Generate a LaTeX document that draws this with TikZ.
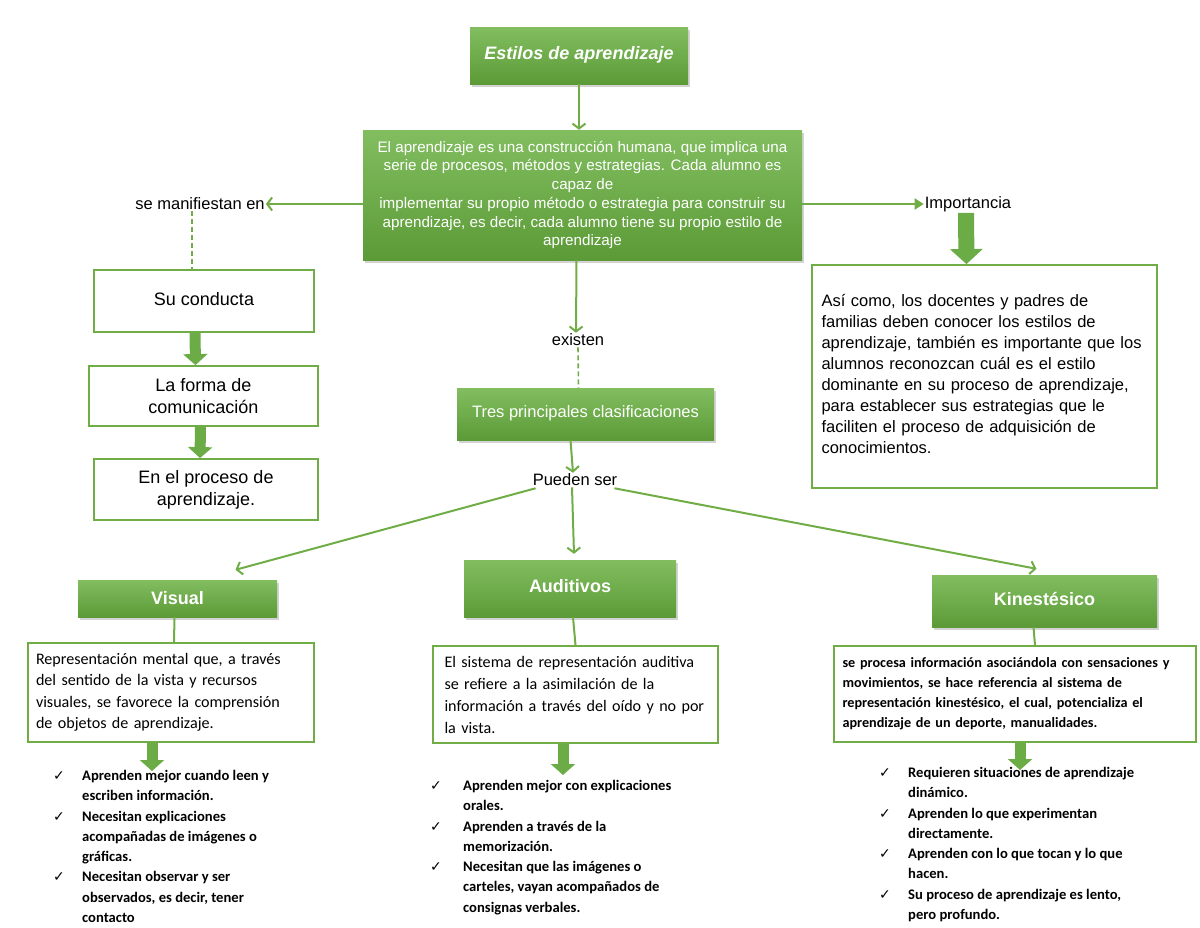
\documentclass[tikz,border=0pt]{standalone}
\usepackage{fontspec}
\setmainfont{Liberation Sans}
\newfontfamily\carl{Carlito}
\newfontfamily\dvs{DejaVu Sans}
\usetikzlibrary{arrows.meta,shadows,calc}
\definecolor{grn}{RGB}{112,173,71}
\definecolor{gtop}{RGB}{130,190,96}
\definecolor{gbot}{RGB}{92,154,55}
\definecolor{garrow}{RGB}{108,172,70}
\tikzset{
  gbox/.style={top color=gtop,bottom color=gbot,draw=none,
    drop shadow={opacity=0.35,shadow xshift=1.5pt,shadow yshift=-2.5pt},
    text=white,inner sep=0pt},
  wbox/.style={draw=grn,line width=1.8pt,fill=white,inner sep=0pt},
  conn/.style={draw=grn,line width=2pt,-{Straight Barb[length=5pt,width=13pt]}},
  tconn/.style={draw=grn,line width=2pt,-{Triangle[length=9pt,width=11pt]}},
  plain/.style={draw=grn,line width=2pt},
  dconn/.style={draw=grn,line width=1.6pt,dashed,dash pattern=on 5pt off 3pt},
  barrow/.style={draw=garrow,line width=11pt,-{Triangle[length=11pt,width=24pt]}},
  bigbarrow/.style={draw=garrow,line width=16pt,-{Triangle[length=15pt,width=32pt]}},
  lbl/.style={inner sep=1pt,font=\fontsize{16.5}{19}\selectfont},
  chk/.style={anchor=north west,inner sep=0pt,font=\carl\bfseries\fontsize{14.6}{20.3}\selectfont},
}
\newcommand{\ck}{{\dvs\mdseries\fontsize{14}{20}\selectfont ✓}}
\begin{document}
\begin{tikzpicture}[x=1pt,y=-1pt]
\useasboundingbox (0,0) rectangle (1200,927);

% top
\node[gbox,minimum width=218pt,minimum height=57pt,font=\bfseries\itshape\fontsize{18}{21}\selectfont] (title) at (579,55.5) {\raisebox{5pt}{Estilos de aprendizaje}};
\node[gbox,minimum width=439pt,minimum height=130pt,align=center,font=\fontsize{15.2}{18.7}\selectfont] (main) at (582.5,195) {El aprendizaje es una construcción humana, que implica una\\serie de procesos, métodos y estrategias. Cada alumno es\\capaz de\\implementar su propio método o estrategia para construir su\\aprendizaje, es decir, cada alumno tiene su propio estilo de\\aprendizaje};

\node[lbl] (manif) at (200,204) {se manifiestan en};
\node[lbl] (implbl) at (968,204) {Importancia};

% left column
\node[wbox,minimum width=220pt,minimum height=62pt,font=\fontsize{18}{21}\selectfont] (conducta) at (204,301) {\raisebox{5pt}{Su conducta}};
\node[wbox,minimum width=229pt,minimum height=60pt,align=center,font=\fontsize{18}{22}\selectfont] (forma) at (203.5,396) {La forma de\\comunicación};
\node[wbox,minimum width=224pt,minimum height=61pt,align=center,font=\fontsize{18}{22}\selectfont] (proceso) at (206,489.5) {En el proceso de\\aprendizaje.};

% right box
\node[wbox,minimum width=345pt,minimum height=223pt,text width=330pt,inner xsep=7.5pt,align=left,font=\fontsize{16.5}{21}\selectfont] (impbox) at (984.5,376.5) {\hspace*{2pt}\raisebox{5pt}{\parbox[b]{328pt}{Así como, los docentes y padres de\\familias deben conocer los estilos de\\aprendizaje, también es importante que los\\alumnos reconozcan cuál es el estilo\\dominante en su proceso de aprendizaje,\\para establecer sus estrategias que le\\faciliten el proceso de adquisición de\\conocimientos.}}};

% center
\node[lbl] (existen) at (578,340) {existen};
\node[gbox,minimum width=257pt,minimum height=52pt,font=\fontsize{16.5}{19}\selectfont] (tres) at (585.5,414) {\raisebox{5pt}{Tres principales clasificaciones}};
\node[lbl] (pueden) at (575,480) {Pueden ser};

% three styles
\node[gbox,minimum width=199pt,minimum height=37pt,font=\bfseries\fontsize{18}{21}\selectfont] (visual) at (177.5,598.5) {\raisebox{2pt}{Visual}};
\node[gbox,minimum width=212pt,minimum height=57pt,font=\bfseries\fontsize{18}{21}\selectfont] (aud) at (570,588.5) {\raisebox{6pt}{Auditivos}};
\node[gbox,minimum width=225pt,minimum height=52pt,font=\bfseries\fontsize{18}{21}\selectfont] (kin) at (1044.5,601) {\raisebox{4pt}{Kinestésico}};

\node[wbox,minimum width=286pt,minimum height=99pt,text width=270pt,inner xsep=8pt,align=left,font=\carl\fontsize{16.1}{21.5}\selectfont] (visdesc) at (171,692.5) {Representación mental que, a través\\del sentido de la vista y recursos\\visuales, se favorece la comprensión\\de objetos de aprendizaje.};
\node[wbox,minimum width=285pt,minimum height=97pt,text width=262pt,inner xsep=11.5pt,align=left,font=\carl\fontsize{16.1}{22}\selectfont] (auddesc) at (575.5,694.5) {El sistema de representación auditiva\\se refiere a la asimilación de la\\información a través del oído y no por\\la vista.};
\node[wbox,minimum width=362pt,minimum height=96pt,text width=345pt,inner xsep=8.5pt,align=left,font=\carl\bfseries\fontsize{14.2}{20}\selectfont] (kindesc) at (1015,694) {se procesa información asociándola con sensaciones y\\movimientos, se hace referencia al sistema de\\representación kinestésico, el cual, potencializa el\\aprendizaje de un deporte, manualidades.};

% lists
\node[chk] (vislist) at (53,766) {\begin{tabular}{@{}p{29pt}@{}l@{}}
\ck & Aprenden mejor cuando leen y\\
 & escriben información.\\
\ck & Necesitan explicaciones\\
 & acompañadas de imágenes o\\
 & gráficas.\\
\ck & Necesitan observar y ser\\
 & observados, es decir, tener\\
 & contacto
\end{tabular}};
\node[chk] (audlist) at (430,776) {\begin{tabular}{@{}p{33pt}@{}l@{}}
\ck & Aprenden mejor con explicaciones\\
 & orales.\\
\ck & Aprenden a través de la\\
 & memorización.\\
\ck & Necesitan que las imágenes o\\
 & carteles, vayan acompañados de\\
 & consignas verbales.
\end{tabular}};
\node[chk] (kinlist) at (879,763) {\begin{tabular}{@{}p{29pt}@{}l@{}}
\ck & Requieren situaciones de aprendizaje\\
 & dinámico.\\
\ck & Aprenden lo que experimentan\\
 & directamente.\\
\ck & Aprenden con lo que tocan y lo que\\
 & hacen.\\
\ck & Su proceso de aprendizaje es lento,\\
 & pero profundo.
\end{tabular}};

% connectors
\draw[conn] (title.south) -- (title.south |- main.north);
\draw[conn] ([yshift=-9pt]main.west) -- (manif.east);
\draw[tconn] ([yshift=-9pt]main.east) -- (implbl.west);
\draw[dconn] ([xshift=-8pt]manif.south) -- ([xshift=-12pt]conducta.north);
\draw[barrow] ([xshift=-9pt]conducta.south) -- ([xshift=-8pt]forma.north);
\draw[barrow] ([xshift=-3pt]forma.south) -- ([xshift=-6pt]proceso.north);
\draw[bigbarrow] ([xshift=-2pt]implbl.south) -- ([xshift=-18pt]impbox.north);
\draw[conn] ([xshift=-6pt]main.south) -- ([xshift=-2pt]existen.north);
\draw[dconn] (existen.south) -- ([xshift=-7pt]tres.north);
\draw[conn] ([xshift=-15pt]tres.south) -- ([xshift=-2pt]pueden.north);
\draw[conn] ([xshift=4pt,yshift=-1pt]pueden.south west) -- ([xshift=58pt,yshift=10pt]visual.north);
\draw[conn] ([xshift=-3pt]pueden.south) -- ([xshift=4pt,yshift=6pt]aud.north);
\draw[conn] ([xshift=-4pt,yshift=-1pt]pueden.south east) -- ([xshift=-8pt,yshift=6pt]kin.north);
\draw[plain] ([xshift=-3pt]visual.south) -- ([xshift=3pt]visdesc.north);
\draw[plain] ([xshift=3pt]aud.south) -- (auddesc.north);
\draw[plain] ([xshift=-11pt]kin.south) -- ([xshift=20pt]kindesc.north);
\coordinate (va) at (152,771);
\coordinate (aa) at (563,775);
\coordinate (ka) at (1020,770);
\draw[barrow] (visdesc.south -| va) -- (va);
\draw[barrow] (auddesc.south -| aa) -- (aa);
\draw[barrow] (kindesc.south -| ka) -- (ka);
\end{tikzpicture}
\end{document}
